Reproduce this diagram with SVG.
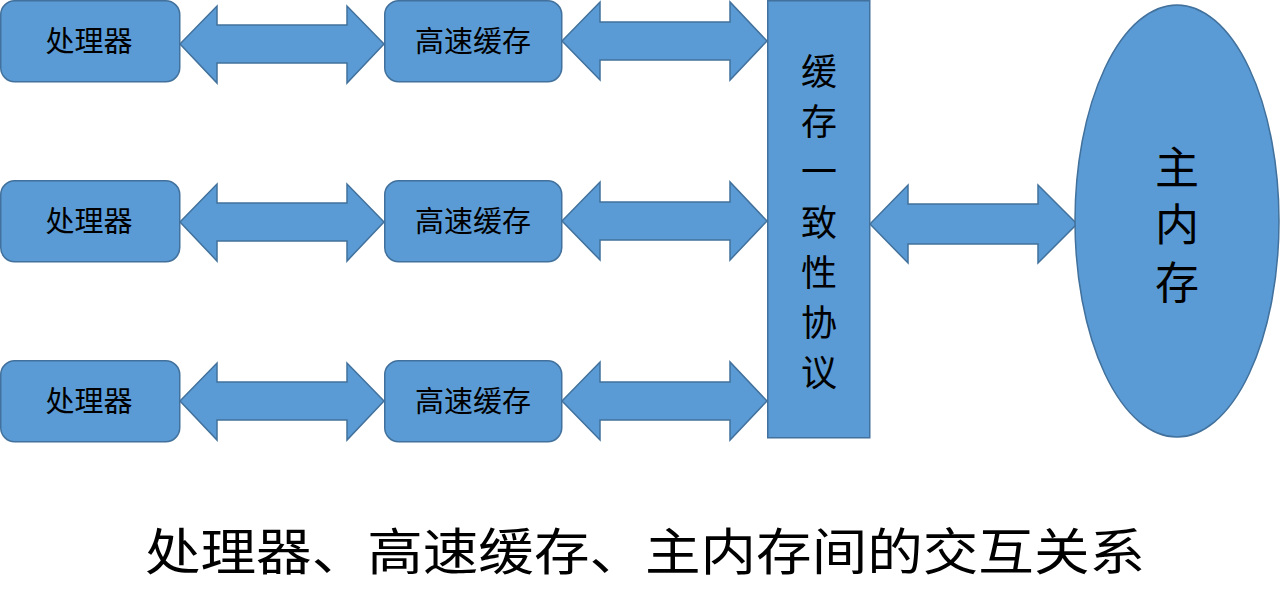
<svg xmlns="http://www.w3.org/2000/svg" width="1280" height="613" viewBox="0 0 1280 613">
<style>
.shape{fill:#5B9BD5;stroke:#41719C;stroke-width:1.5}
.lbl{font-family:"Liberation Sans","Noto Sans CJK SC",sans-serif;fill:#000;text-anchor:middle;dominant-baseline:central}
.box{font-size:29px}
.title{font-family:"Liberation Serif","Noto Sans CJK SC",serif;fill:#000;font-size:50px}
</style>
<defs>
<path id="arrA" d="M0,0 L37,-38 L37,-19 L167,-19 L167,-38 L204,0 L167,39 L167,19 L37,19 L37,39 Z"/>
<path id="arrB" d="M0,0 L38,-39 L38,-19 L168,-19 L168,-39 L205,0 L168,39 L168,19 L38,19 L38,39 Z"/>
</defs>
<rect width="1280" height="613" fill="#fff"/>
<g id="connectors">
<use href="#arrA" class="shape" x="180" y="44"/>
<use href="#arrA" class="shape" x="180" y="222"/>
<use href="#arrA" class="shape" x="180" y="401"/>
<use href="#arrB" class="shape" x="562" y="41"/>
<use href="#arrB" class="shape" x="562" y="221"/>
<use href="#arrB" class="shape" x="562" y="401"/>
<path class="shape" d="M870,224 L908,185 L908,204 L1038,204 L1038,185 L1077,224 L1038,263 L1038,244 L908,244 L908,263 Z"/>
</g>
<g id="cpu1"><rect class="shape" x="0.75" y="0.75" width="179" height="81" rx="14"/><text class="lbl box" x="89" y="42">处理器</text></g>
<g id="cpu2"><rect class="shape" x="0.75" y="180.75" width="179" height="81" rx="14"/><text class="lbl box" x="89" y="222">处理器</text></g>
<g id="cpu3"><rect class="shape" x="0.75" y="360.75" width="179" height="81" rx="14"/><text class="lbl box" x="89" y="402">处理器</text></g>
<g id="cache1"><rect class="shape" x="384.75" y="0.75" width="177" height="81" rx="14"/><text class="lbl box" x="473" y="42">高速缓存</text></g>
<g id="cache2"><rect class="shape" x="384.75" y="180.75" width="177" height="81" rx="14"/><text class="lbl box" x="473" y="222">高速缓存</text></g>
<g id="cache3"><rect class="shape" x="384.75" y="360.75" width="177" height="81" rx="14"/><text class="lbl box" x="473" y="402">高速缓存</text></g>
<g id="protocol"><rect class="shape" x="767.75" y="0.75" width="102" height="437"/>
<text class="lbl" x="819" font-size="36"><tspan x="819" y="72">缓</tspan><tspan x="819" y="122">存</tspan><tspan x="819" y="172">一</tspan><tspan x="819" y="223">致</tspan><tspan x="819" y="273">性</tspan><tspan x="819" y="323">协</tspan><tspan x="819" y="373">议</tspan></text></g>
<g id="memory"><ellipse class="shape" cx="1177" cy="221" rx="102" ry="216"/>
<text class="lbl" font-size="44"><tspan x="1177" y="168">主</tspan><tspan x="1177" y="225">内</tspan><tspan x="1177" y="283">存</tspan></text></g>
<text class="title" x="145" y="570" textLength="1000" lengthAdjust="spacingAndGlyphs">处理器、高速缓存、主内存间的交互关系</text>
</svg>
